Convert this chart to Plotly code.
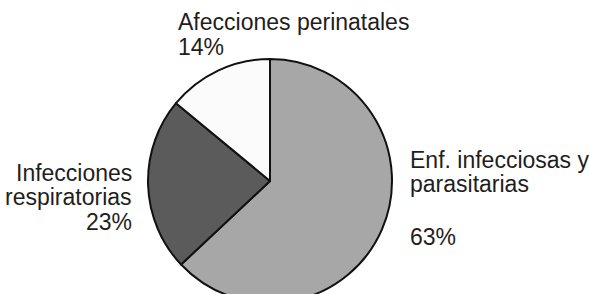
import plotly.graph_objects as go

# Data
labels = ["Enf. infecciosas y parasitarias", "Infecciones respiratorias", "Afecciones perinatales"]
values = [63, 23, 14]
label_lines = [["Enf. infecciosas y", "parasitarias"], ["Infecciones", "respiratorias"], ["Afecciones perinatales"]]
colors = ["#a7a7a7", "#5b5b5b", "#fbfbfb"]

W, H = 589, 306
FS = 23

def py(px):
    return 1 - px / H

fig = go.Figure(go.Pie(
    labels=labels,
    values=values,
    sort=False,
    direction="clockwise",
    rotation=0,
    textinfo="none",
    hoverinfo="label+percent",
    marker=dict(colors=colors, line=dict(color="#111111", width=2)),
    domain=dict(x=[148 / W, 392 / W], y=[1 - 303 / H, 1 - 59 / H]),
    showlegend=False,
))

pct = [f"{v}%" for v in values]
font = dict(family="Liberation Sans, Arial, sans-serif", size=FS, color="#1e1e1e")

# (x, anchor, baselines for each text line, baseline for percent)
layout_spec = [
    (408, "left", [168, 192], 245),
    (134, "right", [181, 205], 230),
    (176, "left", [30], 55),
]

ann = []
for lines, p, (x, anc, bases, pbase) in zip(label_lines, pct, layout_spec):
    for t, b in zip(lines, bases):
        ann.append(dict(text=t, x=x / W, y=py(b - 8), xref="paper", yref="paper",
                        xanchor=anc, yanchor="middle", showarrow=False, font=font))
    ann.append(dict(text=p, x=x / W, y=py(pbase - 8), xref="paper", yref="paper",
                    xanchor=anc, yanchor="middle", showarrow=False, font=font))

fig.update_layout(
    width=W, height=H,
    margin=dict(l=0, r=0, t=0, b=0),
    paper_bgcolor="white",
    plot_bgcolor="white",
    annotations=ann,
)

fig.write_html(
    "out.html",
    config={"displayModeBar": False},
    post_script="document.body.style.margin='0';document.body.style.overflow='hidden';document.documentElement.style.overflow='hidden';",
)
